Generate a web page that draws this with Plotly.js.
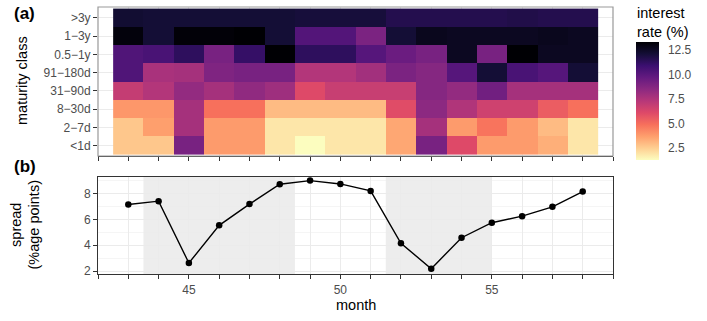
<!DOCTYPE html>
<html>
<head>
<meta charset="utf-8">
<script src="https://cdn.plot.ly/plotly-3.0.1.min.js"></script>
<style>
  html, body { margin: 0; padding: 0; background: #fff; }
  #graph { width: 707px; height: 321px; }
</style>
</head>
<body>
<div id="graph"></div>
<script>
// months on the x axis
const months = [43, 44, 45, 46, 47, 48, 49, 50, 51, 52, 53, 54, 55, 56, 57, 58];

// maturity classes, bottom to top
const maturityClasses = ['<1d', '2−7d', '8−30d', '31−90d', '91−180d', '0.5−1y', '1−3y', '>3y'];

// interest rate (%) by maturity class, one value per month
const rateLt1d    = [2.7, 2.7, 9.1, 3.8, 3.8, 1.9, 1.3, 1.9, 1.9, 3.5, 9.1, 6.1, 3.8, 3.8, 3.3, 1.9];
const rate2to7d   = [2.7, 3.7, 7.8, 3.8, 3.8, 1.9, 1.9, 1.9, 1.9, 3.5, 7.8, 3.8, 4.8, 3.8, 3.0, 1.9];
const rate8to30d  = [3.9, 3.9, 7.8, 4.9, 4.9, 3.0, 3.0, 3.0, 3.0, 6.0, 8.5, 7.5, 6.6, 6.6, 5.5, 4.9];
const rate31to90d = [6.9, 7.4, 8.3, 7.8, 8.4, 8.0, 6.1, 6.8, 6.8, 6.8, 8.7, 8.3, 9.3, 7.8, 7.8, 7.8];
const rate91to180d = [10.3, 7.7, 7.8, 8.9, 9.1, 9.1, 7.4, 7.4, 7.9, 9.0, 8.7, 10.1, 12.1, 10.5, 10.1, 12.1];
const rate6mTo1y  = [10.3, 10.5, 11.3, 9.1, 11.1, 13.3, 11.3, 11.3, 10.1, 9.5, 9.1, 12.6, 9.1, 13.3, 12.6, 12.6];
const rate1to3y   = [13.1, 12.1, 13.2, 13.2, 13.3, 12.1, 10.2, 10.2, 9.0, 12.1, 12.7, 12.6, 12.6, 12.6, 12.7, 12.6];
const rateGt3y    = [12.2, 12.1, 12.1, 12.1, 12.1, 12.1, 12.0, 12.0, 12.0, 11.6, 11.6, 11.6, 11.6, 11.7, 11.6, 11.6];

// spread (percentage points) by month
const spread = [7.15, 7.41, 2.62, 5.54, 7.18, 8.72, 9.0, 8.74, 8.2, 4.15, 2.18, 4.58, 5.74, 6.25, 6.97, 8.15];

// shaded periods (month ranges)
const shadedPeriods = [[43.5, 48.5], [51.5, 55]];

// colour bar ticks
const rateTicks = [2.5, 5, 7.5, 10, 12.5];
// x tick marks and labelled ones
const monthTicks = [42, 43, 44, 45, 46, 47, 48, 49, 50, 51, 52, 53, 54, 55, 56, 57, 58, 59];
const monthLabels = [45, 50, 55];

const W = 707, H = 321;
const px = v => v / W;
const py = v => 1 - v / H;

const FONT = 'Liberation Sans, Arial, sans-serif';
const GRID = '#ebebeb';
const TXT = '#4d4d4d';

const magmaRev = [
  [0.0, '#FCFDBF'], [0.1, '#FECF92'], [0.2, '#FE9F6D'], [0.3, '#F7705C'],
  [0.4, '#DE4968'], [0.5, '#B73779'], [0.6, '#8C2981'], [0.7, '#641A80'],
  [0.8, '#3B0F70'], [0.9, '#140E36'], [1.0, '#000004']
];

const heat = {
  type: 'heatmap',
  x: months,
  y: maturityClasses,
  z: [rateLt1d, rate2to7d, rate8to30d, rate31to90d, rate91to180d, rate6mTo1y, rate1to3y, rateGt3y],
  xaxis: 'x', yaxis: 'y',
  zmin: 1.3, zmax: 13.3,
  colorscale: magmaRev,
  hoverinfo: 'skip',
  colorbar: {
    x: px(636), xanchor: 'left',
    y: py(101), yanchor: 'middle',
    len: 118, lenmode: 'pixels',
    thickness: 23, thicknessmode: 'pixels',
    xpad: 0, ypad: 0, outlinewidth: 0,
    tickvals: rateTicks, tickformat: '.1f',
    ticks: 'outside', ticklen: 7, tickcolor: 'rgba(0,0,0,0)',
    tickfont: { family: FONT, size: 12, color: TXT }
  }
};

const line = {
  type: 'scatter',
  mode: 'lines+markers',
  x: months,
  y: spread,
  xaxis: 'x2', yaxis: 'y2',
  line: { color: '#000', width: 1.4 },
  marker: { color: '#000', size: 6.5 },
  hoverinfo: 'skip'
};

const shapes = shadedPeriods.map(p => ({
  type: 'rect', xref: 'x2', yref: 'paper',
  x0: p[0], x1: p[1], y0: py(274.3), y1: py(176.7),
  fillcolor: '#ededed', line: { width: 0 }, layer: 'below'
}));
// grey frame round the heatmap panel
shapes.push({
  type: 'rect', xref: 'paper', yref: 'paper',
  x0: px(98), x1: px(613), y0: py(156), y1: py(7),
  line: { color: '#999', width: 1.2 }, layer: 'above'
});

const ann = (text, x, y, opts) => Object.assign({
  text, x: px(x), y: py(y), xref: 'paper', yref: 'paper', showarrow: false,
  font: { family: FONT, size: 14.5, color: '#000' }
}, opts);

const layout = {
  width: W, height: H,
  margin: { l: 0, r: 0, t: 0, b: 0 },
  paper_bgcolor: '#fff', plot_bgcolor: 'rgba(0,0,0,0)',
  showlegend: false,
  font: { family: FONT, color: TXT },
  xaxis: {
    domain: [px(98), px(613)], anchor: 'y',
    range: [42, 59], tickvals: monthTicks, showticklabels: false,
    ticks: 'outside', ticklen: 4, tickcolor: '#333',
    showgrid: true, gridcolor: GRID, zeroline: false,
    showline: true, linecolor: '#333', linewidth: 1
  },
  yaxis: {
    domain: [py(156), py(7)], anchor: 'x',
    type: 'category', categoryorder: 'array', categoryarray: maturityClasses,
    range: [-0.555, 7.587],
    ticks: 'outside', ticklen: 4, tickcolor: '#333',
    tickfont: { family: FONT, size: 12, color: TXT },
    showgrid: true, gridcolor: GRID, zeroline: false, showline: false
  },
  xaxis2: {
    domain: [px(98), px(613)], anchor: 'y2',
    range: [42, 59], tickvals: monthTicks,
    ticktext: monthTicks.map(m => monthLabels.includes(m) ? String(m) : ''),
    ticks: 'outside', ticklen: 4, tickcolor: '#333',
    tickfont: { family: FONT, size: 12, color: TXT },
    showgrid: true, gridcolor: GRID, gridwidth: 1, zeroline: false,
    showline: true, mirror: true, linecolor: '#333', linewidth: 1
  },
  yaxis2: {
    domain: [py(274.3), py(176.7)], anchor: 'x2',
    range: [1.75, 9.3], tickvals: [2, 4, 6, 8],
    ticks: 'outside', ticklen: 4, tickcolor: '#333',
    tickfont: { family: FONT, size: 12, color: TXT },
    showgrid: true, gridcolor: GRID, gridwidth: 1, zeroline: false,
    minor: { dtick: 1, tick0: 1, showgrid: true, gridcolor: GRID, gridwidth: 0.5, ticklen: 0 },
    showline: true, mirror: true, linecolor: '#333', linewidth: 1
  },
  shapes: shapes,
  annotations: [
    ann('<b>(a)</b>', 12, 13, { xanchor: 'left', yanchor: 'middle', font: { family: FONT, size: 17, color: '#000' } }),
    ann('<b>(b)</b>', 12, 167, { xanchor: 'left', yanchor: 'middle', font: { family: FONT, size: 17, color: '#000' } }),
    ann('maturity class', 22, 81, { textangle: -90, xanchor: 'center', yanchor: 'middle' }),
    ann('spread<br>(%age points)', 25, 225.5, { textangle: -90, xanchor: 'center', yanchor: 'middle' }),
    ann('month', 355.5, 305, { xanchor: 'center', yanchor: 'middle' }),
    ann('interest<br>rate (%)', 635, 3, { xanchor: 'left', yanchor: 'top', align: 'left' })
  ]
};

Plotly.newPlot('graph', [heat, line], layout, { staticPlot: true });
</script>
</body>
</html>
